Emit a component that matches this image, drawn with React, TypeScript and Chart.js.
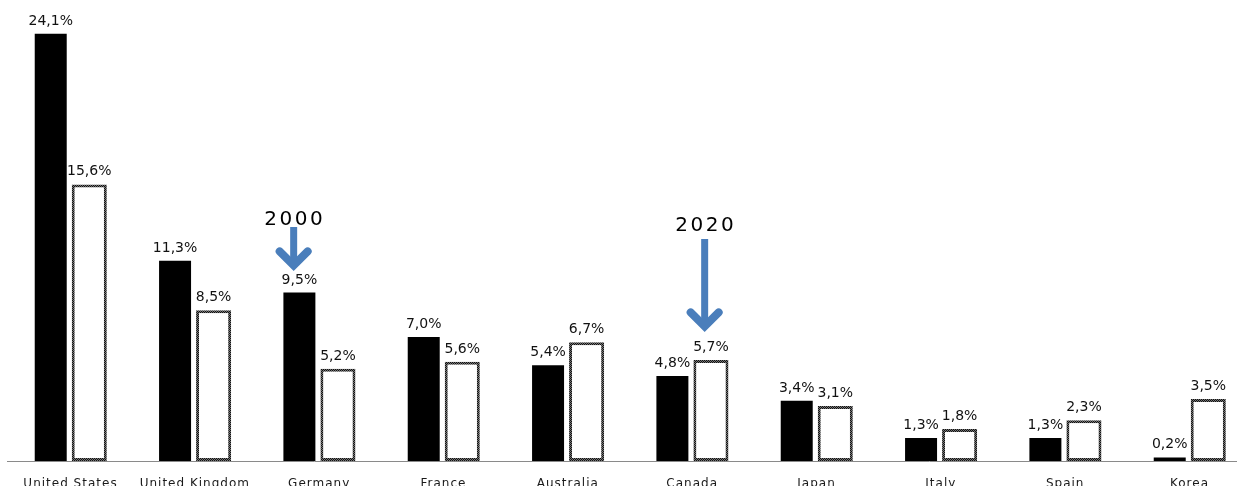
import React, { useEffect, useRef } from 'react';
import { Chart, registerables } from 'chart.js';

Chart.register(...registerables);

const categories = [
  'United States',
  'United Kingdom',
  'Germany',
  'France',
  'Australia',
  'Canada',
  'Japan',
  'Italy',
  'Spain',
  'Korea',
];
const seriesNames = ['2000', '2020'];
const values2000 = [24.1, 11.3, 9.5, 7.0, 5.4, 4.8, 3.4, 1.3, 1.3, 0.2];
const values2020 = [15.6, 8.5, 5.2, 5.6, 6.7, 5.7, 3.1, 1.8, 2.3, 3.5];
const yMin = 0;
const yMax = 26;

// annotation arrows (label text + which category they point to)
const arrowLabels = ['2000', '2020'];
const arrowCategoryIndex = [2, 5];

const W = 1237;
const H = 486;
const FONT = '"DejaVu Sans", Verdana, sans-serif';
const ARROW_BLUE = '#4A7EBB';

// style/layout for annotations (pixels relative to category centre / canvas)
const arrowStyle = [
  { dx: -25, textY: 225, shaftTop: 227, tipY: 271 },
  { dx: 13, textY: 231, shaftTop: 239, tipY: 332 },
];

const fmt = (v: number) => v.toFixed(1).replace('.', ',') + '%';

function makeBorderPattern(): CanvasPattern | string {
  const c = document.createElement('canvas');
  c.width = 2;
  c.height = 2;
  const g = c.getContext('2d');
  if (!g) return '#333';
  g.fillStyle = '#111';
  g.fillRect(0, 0, 2, 2);
  g.fillStyle = '#777';
  g.fillRect(1, 0, 1, 1);
  g.fillRect(0, 1, 1, 1);
  const p = g.createPattern(c, 'repeat');
  return p || '#333';
}

const overlayPlugin = {
  id: 'overlay',
  beforeDatasetsDraw(chart: any) {
    const ctx = chart.ctx;
    const y = chart.scales.y.getPixelForValue(0);
    ctx.save();
    ctx.strokeStyle = '#8a8a8a';
    ctx.lineWidth = 1;
    ctx.beginPath();
    ctx.moveTo(7, Math.round(y) + 0.5);
    ctx.lineTo(W, Math.round(y) + 0.5);
    ctx.stroke();
    ctx.restore();
  },
  afterDatasetsDraw(chart: any) {
    const ctx = chart.ctx;
    const xs = chart.scales.x;
    ctx.save();
    // value labels
    ctx.font = `14px ${FONT}`;
    (ctx as any).letterSpacing = '0px';
    ctx.fillStyle = '#111';
    ctx.textAlign = 'center';
    ctx.textBaseline = 'alphabetic';
    chart.data.datasets.forEach((ds: any, di: number) => {
      const meta = chart.getDatasetMeta(di);
      meta.data.forEach((bar: any, i: number) => {
        const v = ds.data[i];
        ctx.fillText(fmt(v), bar.x, bar.y - 9);
      });
    });
    // category labels
    ctx.font = `12px ${FONT}`;
    (ctx as any).letterSpacing = '1px';
    ctx.fillStyle = '#1a1a1a';
    categories.forEach((c, i) => {
      ctx.fillText(c, xs.getPixelForValue(i) + 0.5, 487);
    });
    // annotation arrows
    arrowLabels.forEach((t, k) => {
      const st = arrowStyle[k];
      const x = xs.getPixelForValue(arrowCategoryIndex[k]) + st.dx;
      ctx.font = `20px ${FONT}`;
      (ctx as any).letterSpacing = '2.5px';
      ctx.fillStyle = '#000';
      ctx.fillText(t, x + 1, st.textY);
      ctx.strokeStyle = ARROW_BLUE;
      ctx.lineWidth = 7;
      ctx.lineCap = 'butt';
      ctx.beginPath();
      ctx.moveTo(x, st.shaftTop);
      ctx.lineTo(x, st.tipY - 7);
      ctx.stroke();
      const tip = st.tipY - 5.6;
      ctx.lineWidth = 8;
      ctx.lineCap = 'round';
      ctx.lineJoin = 'miter';
      ctx.beginPath();
      ctx.moveTo(x - 14, tip - 14);
      ctx.lineTo(x, tip);
      ctx.lineTo(x + 14, tip - 14);
      ctx.stroke();
    });
    ctx.restore();
  },
};

export default function App() {
  const ref = useRef<HTMLCanvasElement | null>(null);

  useEffect(() => {
    if (!ref.current) return;
    const pattern = makeBorderPattern();
    const chart = new Chart(ref.current, {
      type: 'bar',
      data: {
        labels: categories,
        datasets: [
          {
            label: seriesNames[0],
            data: values2000,
            backgroundColor: '#000000',
            borderWidth: 0,
            barPercentage: 0.83,
            categoryPercentage: 0.62,
            clip: false as any,
          },
          {
            label: seriesNames[1],
            data: values2020,
            backgroundColor: '#ffffff',
            borderColor: pattern as any,
            borderWidth: 3,
            borderSkipped: false,
            barPercentage: 0.91,
            categoryPercentage: 0.62,
            clip: false as any,
          },
        ],
      },
      options: {
        responsive: false,
        animation: false,
        devicePixelRatio: 1,
        layout: { padding: { left: 70, right: 48, top: 0, bottom: 25 } },
        plugins: {
          legend: { display: false },
          tooltip: { enabled: false },
        },
        scales: {
          x: {
            type: 'category',
            offset: false,
            display: false,
            grid: { display: false },
          },
          y: {
            min: yMin,
            max: yMax,
            display: false,
            grid: { display: false },
          },
        },
      },
      plugins: [overlayPlugin],
    });
    return () => chart.destroy();
  }, []);

  return (
    <div
      style={{
        position: 'fixed',
        left: 0,
        top: 0,
        width: W,
        height: H,
        overflow: 'hidden',
        background: '#fff',
      }}
    >
      <canvas ref={ref} width={W} height={H} style={{ display: 'block' }} />
    </div>
  );
}
